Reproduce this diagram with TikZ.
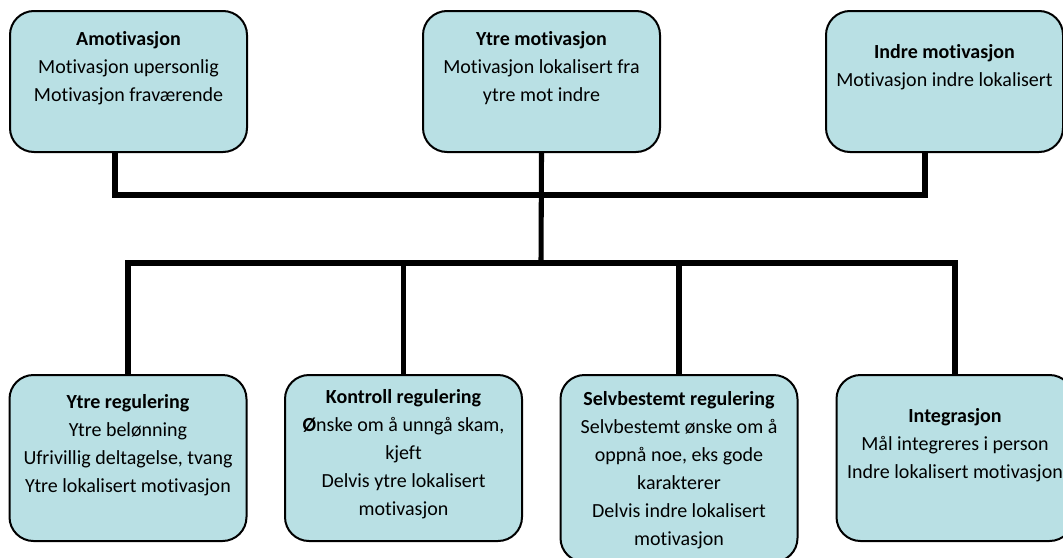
\documentclass[tikz,border=0pt]{standalone}
\usepackage{fontspec}
\setmainfont{Carlito}[Ligatures=NoCommon]
\usetikzlibrary{calc}
\definecolor{boxfill}{HTML}{B9E0E4}
\def\px{0.75pt}
\tikzset{
  box/.style={draw=black, line width=1.5pt, fill=boxfill, rounded corners=18pt,
    minimum width=237*\px, inner sep=0pt},
  txt/.style={align=center, inner sep=0pt, anchor=north,
    font=\fontsize{15pt}{21pt}\selectfont},
  conn/.style={draw=black, line width=3.8pt, line join=miter},
}
\begin{document}
\begin{tikzpicture}[x=0.75pt, y=-0.75pt]
\path[use as bounding box] (0,0) rectangle (1063,557);
\clip (0,0) rectangle (1063,557);
% junction points
\coordinate (jt) at (541,195);
\coordinate (jb) at (541,263);
% top boxes
\node[box, minimum height=141*\px] (A) at (128.5,81.5) {};
\node[box, minimum height=141*\px] (Y) at (541.5,81.5) {};
\node[box, minimum height=141*\px] (I) at (944.5,81.5) {};
% bottom boxes
\node[box, minimum height=166*\px] (YR) at (128,458) {};
\node[box, minimum height=166*\px] (K) at (403.5,458) {};
\node[box, minimum height=187*\px] (S) at (679,468.5) {};
\node[box, minimum height=166*\px] (N) at (955,458) {};
% connectors
\draw[conn] ($(A.south)+(-13.5,0)$) |- (jt) -| ($(I.south)+(-19.5,0)$);
\draw[conn] (Y.south) -- (jb);
\draw[conn] (YR.north) |- (jb) -| (N.north);
\draw[conn] (K.north) -- (K.north |- jb);
\draw[conn] (S.north) -- (S.north |- jb);
% texts
\node[txt] (At) at (128.5,25.4) {\strut\textbf{Amotivasjon}\\Motivasjon upersonlig\\Motivasjon fraværende};
\node[txt] (Yt) at (541.5,25.4) {\strut\textbf{Ytre motivasjon}\\Motivasjon lokalisert fra\\ytre mot indre};
\node[txt] (It) at (944.5,38.4) {\strut\textbf{Indre motivasjon}\\Motivasjon indre lokalisert};
\node[txt] (YRt) at (128,388.4) {\strut\textbf{Ytre regulering}\\Ytre belønning\\Ufrivillig deltagelse, tvang\\Ytre lokalisert motivasjon};
\node[txt] (Kt) at (403.5,383.4) {\strut\textbf{Kontroll regulering}\\\textbf{Ø}nske om å unngå skam,\\kjeft\\Delvis ytre lokalisert\\motivasjon};
\node[txt] (St) at (679,385.4) {\strut\textbf{Selvbestemt regulering}\\Selvbestemt ønske om å\\oppnå noe, eks gode\\karakterer\\Delvis indre lokalisert\\motivasjon};
\node[txt] (Nt) at (955,402.4) {\strut\textbf{Integrasjon}\\Mål integreres i person\\Indre lokalisert motivasjon};
\end{tikzpicture}
\end{document}
